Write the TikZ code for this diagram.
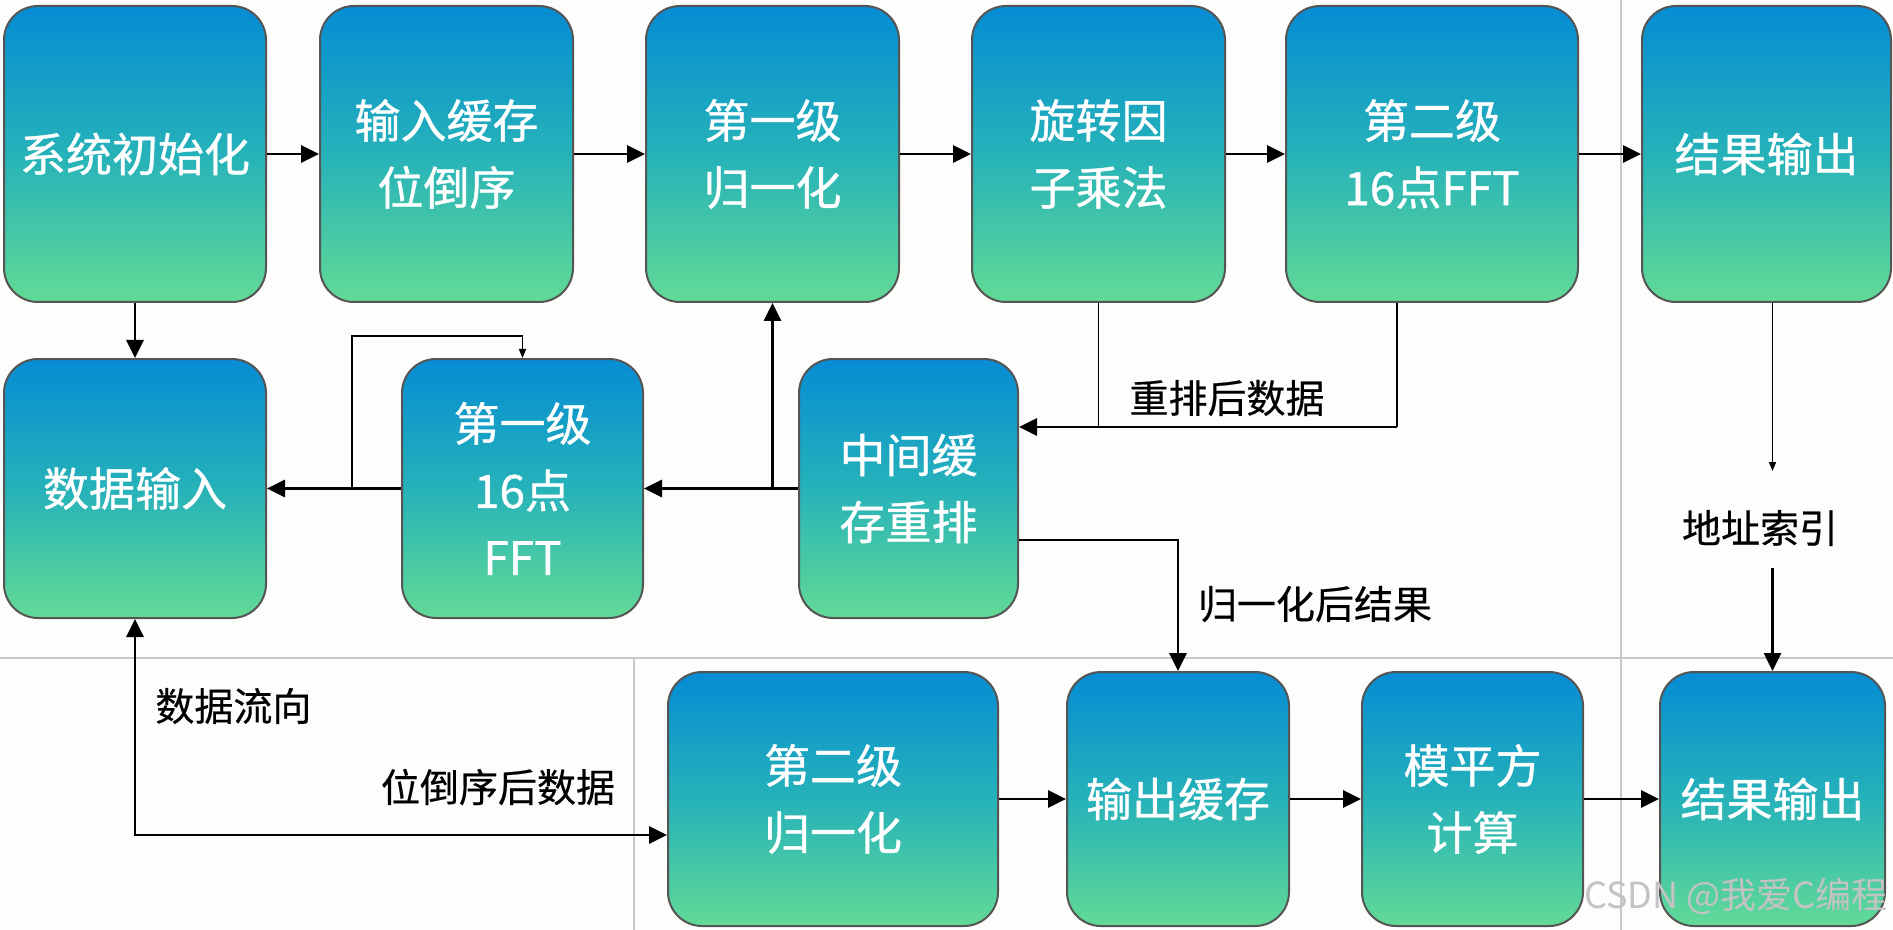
\documentclass[tikz,border=0pt]{standalone}
\usepackage{fontspec}
\setmainfont{Noto Sans CJK SC}
\newfontfamily\boxfont{Noto Sans CJK SC}[FakeBold=0.8]
\newfontfamily\lblfont{Noto Sans CJK SC}[FakeBold=0.4]
\usetikzlibrary{arrows.meta}
\definecolor{btop}{RGB}{5,140,212}
\definecolor{bmid}{RGB}{38,178,185}
\definecolor{bbot}{RGB}{98,218,150}
\definecolor{bord}{RGB}{85,85,85}
\definecolor{sep}{RGB}{200,200,200}
\definecolor{bgc}{RGB}{253,253,251}
\definecolor{wmc}{RGB}{195,195,195}
\begin{document}
\begin{tikzpicture}[x=0.5pt,y=-0.5pt,
  box/.style={draw=bord, line width=1pt, rounded corners=17pt,
    top color=btop, bottom color=bbot, middle color=bmid,
    text=white, align=center, inner sep=0pt,
    font=\boxfont\fontsize{23}{33.5}\selectfont},
  lbl/.style={font=\lblfont\fontsize{19.5}{24}\selectfont, text=black, inner sep=0pt},
  arr/.style={line width=1.4pt, -{Triangle[length=9pt,width=8.5pt]}},
  dbl/.style={line width=1.4pt, {Triangle[length=9pt,width=8.5pt]}-{Triangle[length=9pt,width=8.5pt]}},
  plain/.style={line width=0.9pt},
  thinarr/.style={line width=0.8pt, -{Triangle[length=4.5pt,width=3.5pt]}},
  sepline/.style={draw=sep, line width=0.8pt}]
\useasboundingbox (0,0) rectangle (1893,930);
\fill[bgc] (0,0) rectangle (1893,930);
% separators
\draw[sepline] (0,658) -- (1893,658);
\draw[sepline] (1621,0) -- (1621,930);
\draw[sepline] (634,658) -- (634,930);
% row 1
\node[box, minimum width=131pt, minimum height=148pt] (B1) at (135,154) {系统初始化};
\node[box, minimum width=126.5pt, minimum height=148pt] (B2) at (446.5,154) {输入缓存\\位倒序};
\node[box, minimum width=126.5pt, minimum height=148pt] (B3) at (772.5,154) {第一级\\归一化};
\node[box, minimum width=126.5pt, minimum height=148pt] (B4) at (1098.5,154) {旋转因\\子乘法};
\node[box, minimum width=146pt, minimum height=148pt] (B5) at (1432,154) {第二级\\16点FFT};
\node[box, minimum width=124.5pt, minimum height=148pt] (B6) at (1766.5,154) {结果输出};
% row 2
\node[box, minimum width=131pt, minimum height=129.5pt] (B7) at (135,488.5) {数据输入};
\node[box, minimum width=120.5pt, minimum height=129.5pt] (B8) at (522.5,488.5) {第一级\\16点\\FFT};
\node[box, minimum width=109.5pt, minimum height=129.5pt] (B9) at (908.5,488.5) {中间缓\\存重排};
% row 3
\node[box, minimum width=165pt, minimum height=127pt] (B10) at (833,799) {第二级\\归一化};
\node[box, minimum width=111pt, minimum height=127pt] (B11) at (1178,799) {输出缓存};
\node[box, minimum width=110.5pt, minimum height=127pt] (B12) at (1472.5,799) {模平方\\计算};
\node[box, minimum width=112.5pt, minimum height=127pt] (B13) at (1772.5,799) {结果输出};
% helper coordinates
\coordinate (r427) at (0,427);
\coordinate (r540) at (0,540);
\coordinate (r835) at (0,835);
\coordinate (c5) at (1397,427);
\coordinate (jl) at (352,488.5);
\coordinate (lt) at (352,336);
\coordinate (ai1) at (0,471);
\coordinate (ai2) at (0,568);
% row 1 connectors
\draw[arr] (B1) -- (B2);
\draw[arr] (B2) -- (B3);
\draw[arr] (B3) -- (B4);
\draw[arr] (B4) -- (B5);
\draw[arr] (B5) -- (B6);
\draw[arr] (B1) -- (B7);
% row 2 connectors
\draw[arr] (B9) -- (B8);
\draw[arr] (B3.south |- B9.west) -- (B3.south);
\draw[arr] (B8) -- (B7);
\draw[thinarr] (jl) -- (lt) -| (B8.north);
% rearranged data
\draw[plain] (B4.south) -- (B4.south |- r427);
\draw[plain] (c5 |- B5.south) -- (c5);
\draw[arr] (c5) -- (B9.east |- r427);
\node[lbl] (L1) at (1227,398) {重排后数据};
% normalized result
\draw[arr] (B9.east |- r540) -| (B11.north);
\node[lbl] (L2) at (1315,604) {归一化后结果};
% address index
\draw[thinarr] (B13.north |- B6.south) -- (B13.north |- ai1);
\node[lbl] (L3) at (1760,528) {地址索引};
\draw[arr] (B13.north |- ai2) -- (B13.north);
% data flow
\draw[dbl] (B7.south) |- (B10.west |- r835);
\node[lbl, anchor=west] (L4) at (155,706) {数据流向};
\node[lbl] (L5) at (498,787) {位倒序后数据};
% row 3 connectors
\draw[arr] (B10) -- (B11);
\draw[arr] (B11) -- (B12);
\draw[arr] (B12) -- (B13);
% watermark
\node[font=\fontsize{18}{20}\selectfont, text=wmc, inner sep=0pt] (wm) at (1736,896) {CSDN @我爱C编程};
\end{tikzpicture}
\end{document}
